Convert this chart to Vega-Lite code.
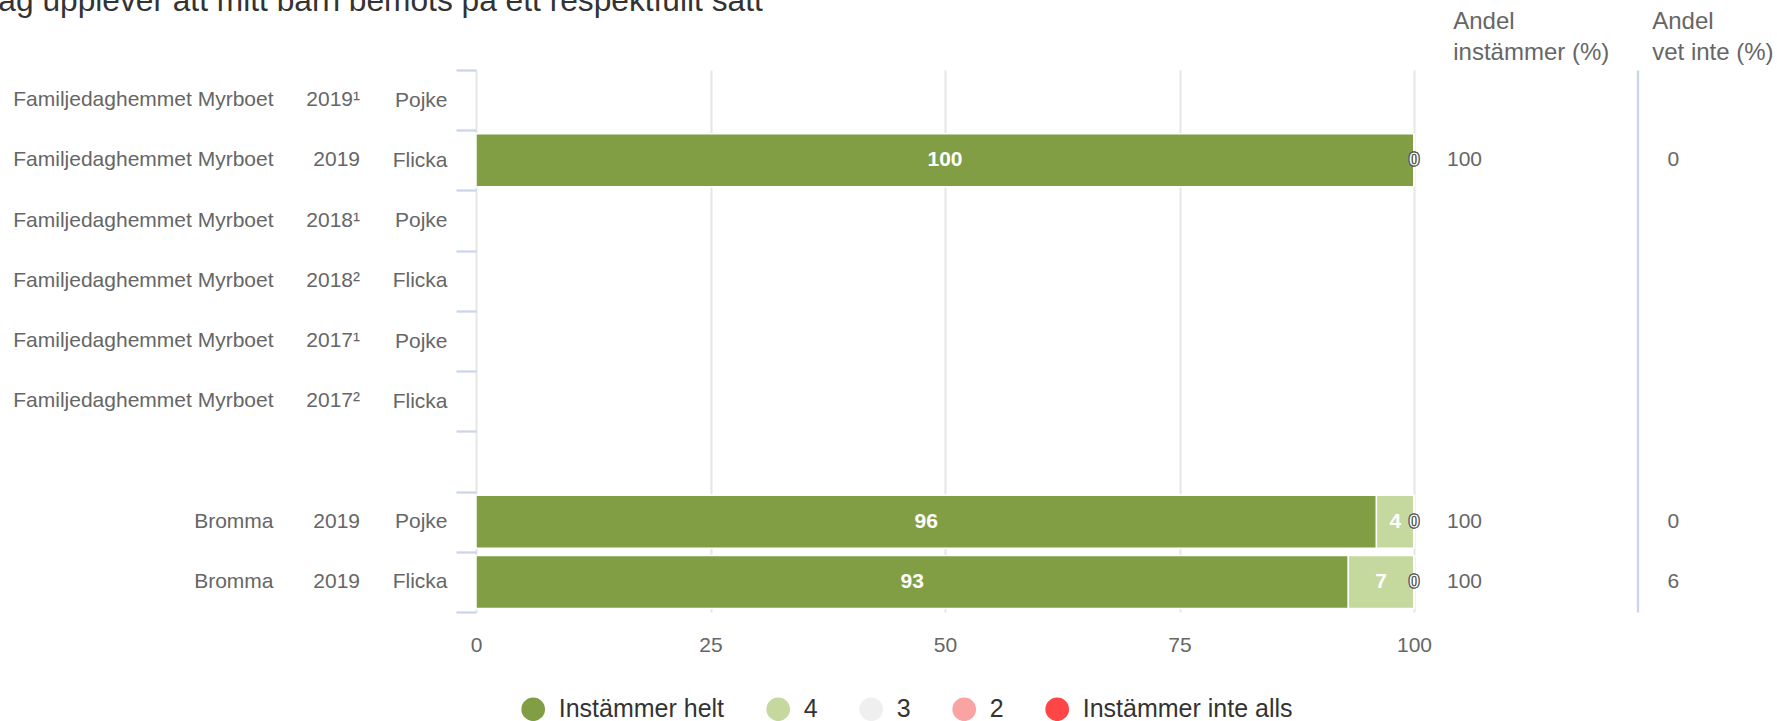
{
  "$schema": "https://vega.github.io/schema/vega-lite/v6.json",
  "width": 938,
  "height": 542,
  "autosize": {"type": "none"},
  "padding": {"left": 476, "top": 70, "right": 363, "bottom": 109},
  "background": "white",
  "title": {
    "text": "Jag upplever att mitt barn bemöts på ett respektfullt sätt",
    "anchor": "start",
    "frame": "group",
    "dx": -493.5,
    "dy": 12,
    "fontSize": 31.7,
    "fontWeight": "normal",
    "font": "Liberation Sans",
    "color": "#333333"
  },
  "config": {
    "view": {"stroke": null},
    "font": "Liberation Sans",
    "axis": {"labelFont": "Liberation Sans", "labelColor": "#666666", "labelFontSize": 21, "grid": false, "title": null}
  },
  "datasets": {
    "bars": [
      {"row": "Familjedaghemmet Myrboet|2019|Flicka|100|0", "cat": "Instämmer helt", "ord": 1, "value": 100},
      {"row": "Familjedaghemmet Myrboet|2019|Flicka|100|0", "cat": "4", "ord": 2, "value": 0},
      {"row": "Familjedaghemmet Myrboet|2019|Flicka|100|0", "cat": "3", "ord": 3, "value": 0},
      {"row": "Familjedaghemmet Myrboet|2019|Flicka|100|0", "cat": "2", "ord": 4, "value": 0},
      {"row": "Familjedaghemmet Myrboet|2019|Flicka|100|0", "cat": "Instämmer inte alls", "ord": 5, "value": 0},
      {"row": "Bromma|2019|Pojke|100|0", "cat": "Instämmer helt", "ord": 1, "value": 96},
      {"row": "Bromma|2019|Pojke|100|0", "cat": "4", "ord": 2, "value": 4},
      {"row": "Bromma|2019|Pojke|100|0", "cat": "3", "ord": 3, "value": 0},
      {"row": "Bromma|2019|Pojke|100|0", "cat": "2", "ord": 4, "value": 0},
      {"row": "Bromma|2019|Pojke|100|0", "cat": "Instämmer inte alls", "ord": 5, "value": 0},
      {"row": "Bromma|2019|Flicka|100|6", "cat": "Instämmer helt", "ord": 1, "value": 93},
      {"row": "Bromma|2019|Flicka|100|6", "cat": "4", "ord": 2, "value": 7},
      {"row": "Bromma|2019|Flicka|100|6", "cat": "3", "ord": 3, "value": 0},
      {"row": "Bromma|2019|Flicka|100|6", "cat": "2", "ord": 4, "value": 0},
      {"row": "Bromma|2019|Flicka|100|6", "cat": "Instämmer inte alls", "ord": 5, "value": 0}
    ],
    "rows": [
      {"row": "Familjedaghemmet Myrboet|2019¹|Pojke||"},
      {"row": "Familjedaghemmet Myrboet|2019|Flicka|100|0"},
      {"row": "Familjedaghemmet Myrboet|2018¹|Pojke||"},
      {"row": "Familjedaghemmet Myrboet|2018²|Flicka||"},
      {"row": "Familjedaghemmet Myrboet|2017¹|Pojke||"},
      {"row": "Familjedaghemmet Myrboet|2017²|Flicka||"},
      {"row": "||||"},
      {"row": "Bromma|2019|Pojke|100|0"},
      {"row": "Bromma|2019|Flicka|100|6"}
    ]
  },
  "layer": [
    {
      "data": {"name": "bars"},
      "mark": {"type": "bar", "stroke": "white", "strokeWidth": 1.5, "height": {"band": 0.88}},
      "encoding": {
        "y": {
          "field": "row", "type": "nominal",
          "scale": {"type": "band", "paddingInner": 0, "paddingOuter": 0, "domain": ["Familjedaghemmet Myrboet|2019¹|Pojke||", "Familjedaghemmet Myrboet|2019|Flicka|100|0", "Familjedaghemmet Myrboet|2018¹|Pojke||", "Familjedaghemmet Myrboet|2018²|Flicka||", "Familjedaghemmet Myrboet|2017¹|Pojke||", "Familjedaghemmet Myrboet|2017²|Flicka||", "||||", "Bromma|2019|Pojke|100|0", "Bromma|2019|Flicka|100|6"]},
          "axis": {"orient": "left", "domain": false, "ticks": true, "tickBand": "extent", "tickColor": "#ccd6eb", "tickWidth": 2.3, "tickSize": 20, "labelPadding": 9, "labelAlign": "right", "labelBaseline": "middle", "labelExpr": "split(datum.label, '|')[2]"}
        },
        "x": {
          "field": "value", "type": "quantitative", "stack": "zero",
          "scale": {"domain": [0, 100], "nice": false, "zero": true},
          "axis": {"values": [0, 25, 50, 75, 100], "grid": true, "gridColor": "#e6e6e6", "gridWidth": 2, "domain": false, "ticks": false, "tickSize": 0, "labelPadding": 22, "labelFlush": false, "labelFontSize": 21, "labelColor": "#666666"}
        },
        "color": {
          "field": "cat", "type": "nominal",
          "scale": {"domain": ["Instämmer helt", "4", "3", "2", "Instämmer inte alls"], "range": ["#819e45", "#c5d89e", "#efefef", "#f9a3a3", "#ff4545"]},
          "legend": {"orient": "none", "legendX": 44.7, "legendY": 626.5, "direction": "horizontal", "columns": 5, "title": null, "symbolType": "circle", "symbolSize": 560, "symbolStrokeWidth": 0, "symbolOpacity": 1, "labelFontSize": 25, "labelColor": "#333333", "labelOffset": 13, "columnPadding": 41, "labelLimit": 400, "padding": 0}
        },
        "order": {"field": "ord", "type": "quantitative"}
      }
    },
    {
      "data": {"name": "bars"},
      "mark": {"type": "text", "fontWeight": "bold", "fontSize": 21, "fill": "white", "align": "center", "baseline": "middle"},
      "encoding": {
        "y": {
          "field": "row", "type": "nominal",
          "scale": {"type": "band", "paddingInner": 0, "paddingOuter": 0, "domain": ["Familjedaghemmet Myrboet|2019¹|Pojke||", "Familjedaghemmet Myrboet|2019|Flicka|100|0", "Familjedaghemmet Myrboet|2018¹|Pojke||", "Familjedaghemmet Myrboet|2018²|Flicka||", "Familjedaghemmet Myrboet|2017¹|Pojke||", "Familjedaghemmet Myrboet|2017²|Flicka||", "||||", "Bromma|2019|Pojke|100|0", "Bromma|2019|Flicka|100|6"]},
          "axis": {"orient": "left", "domain": false, "ticks": false, "tickSize": 0, "labelPadding": 116.5, "labelAlign": "right", "labelBaseline": "middle", "labelExpr": "split(datum.label, '|')[1]"}
        },
        "x": {"field": "value", "type": "quantitative", "stack": "zero", "bandPosition": 0.5},
        "detail": {"field": "cat", "type": "nominal"},
        "order": {"field": "ord", "type": "quantitative"},
        "text": {"field": "value", "type": "quantitative"},
        "stroke": {"condition": {"test": "datum.value === 0", "value": "#555555"}, "value": "transparent"},
        "strokeWidth": {"condition": {"test": "datum.value === 0", "value": 1}, "value": 0}
      }
    },
    {
      "data": {"name": "rows"},
      "mark": {"type": "text"},
      "encoding": {
        "y": {
          "field": "row", "type": "nominal",
          "scale": {"type": "band", "paddingInner": 0, "paddingOuter": 0, "domain": ["Familjedaghemmet Myrboet|2019¹|Pojke||", "Familjedaghemmet Myrboet|2019|Flicka|100|0", "Familjedaghemmet Myrboet|2018¹|Pojke||", "Familjedaghemmet Myrboet|2018²|Flicka||", "Familjedaghemmet Myrboet|2017¹|Pojke||", "Familjedaghemmet Myrboet|2017²|Flicka||", "||||", "Bromma|2019|Pojke|100|0", "Bromma|2019|Flicka|100|6"]},
          "axis": {"orient": "left", "domain": false, "ticks": false, "tickSize": 0, "labelPadding": 203, "labelAlign": "right", "labelBaseline": "middle", "labelLimit": 400, "labelExpr": "split(datum.label, '|')[0]"}
        }
      }
    },
    {
      "data": {"name": "rows"},
      "mark": {"type": "text"},
      "encoding": {
        "y": {
          "field": "row", "type": "nominal",
          "scale": {"type": "band", "paddingInner": 0, "paddingOuter": 0, "domain": ["Familjedaghemmet Myrboet|2019¹|Pojke||", "Familjedaghemmet Myrboet|2019|Flicka|100|0", "Familjedaghemmet Myrboet|2018¹|Pojke||", "Familjedaghemmet Myrboet|2018²|Flicka||", "Familjedaghemmet Myrboet|2017¹|Pojke||", "Familjedaghemmet Myrboet|2017²|Flicka||", "||||", "Bromma|2019|Pojke|100|0", "Bromma|2019|Flicka|100|6"]},
          "axis": {"orient": "right", "domain": false, "ticks": false, "tickSize": 0, "labelPadding": 32.5, "labelAlign": "left", "labelBaseline": "middle", "labelExpr": "split(datum.label, '|')[3]",
            "title": ["Andel", "instämmer (%)"], "titleAngle": 0, "titleX": 38.7, "titleY": -41.5, "titleAlign": "left", "titleBaseline": "alphabetic", "titleFontSize": 24, "titleFontWeight": "normal", "titleColor": "#666666", "titleLineHeight": 30.7, "titleFont": "Liberation Sans"}
        }
      }
    },
    {
      "data": {"name": "rows"},
      "mark": {"type": "text"},
      "encoding": {
        "y": {
          "field": "row", "type": "nominal",
          "scale": {"type": "band", "paddingInner": 0, "paddingOuter": 0, "domain": ["Familjedaghemmet Myrboet|2019¹|Pojke||", "Familjedaghemmet Myrboet|2019|Flicka|100|0", "Familjedaghemmet Myrboet|2018¹|Pojke||", "Familjedaghemmet Myrboet|2018²|Flicka||", "Familjedaghemmet Myrboet|2017¹|Pojke||", "Familjedaghemmet Myrboet|2017²|Flicka||", "||||", "Bromma|2019|Pojke|100|0", "Bromma|2019|Flicka|100|6"]},
          "axis": {"orient": "right", "offset": 223.5, "domain": true, "domainColor": "#ccd6eb", "domainWidth": 2.4, "ticks": false, "tickSize": 0, "labelPadding": 29.5, "labelAlign": "left", "labelBaseline": "middle", "labelExpr": "split(datum.label, '|')[4]",
            "title": ["Andel", "vet inte (%)"], "titleAngle": 0, "titleX": 14.2, "titleY": -41.5, "titleAlign": "left", "titleBaseline": "alphabetic", "titleFontSize": 24, "titleFontWeight": "normal", "titleColor": "#666666", "titleLineHeight": 30.7, "titleFont": "Liberation Sans"}
        }
      }
    }
  ],
  "resolve": {"scale": {"y": "independent"}, "axis": {"y": "independent"}}
}
